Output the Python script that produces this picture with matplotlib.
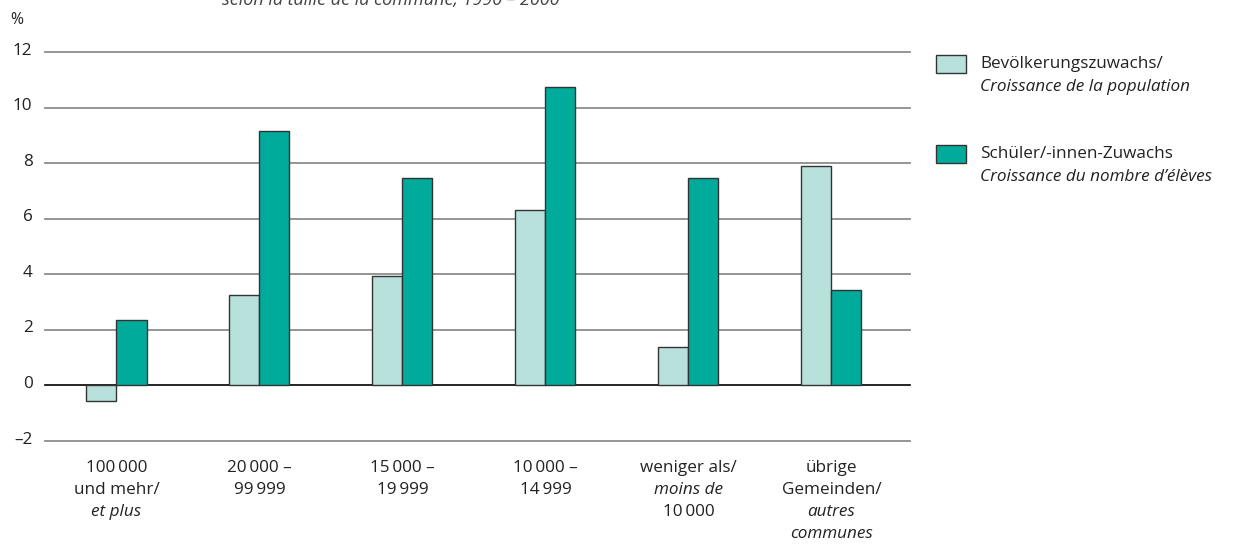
import matplotlib
matplotlib.use("Agg")
import matplotlib.pyplot as plt
from matplotlib.patches import Rectangle

# Daten
categories = [
    [("100\u2009000", False), ("und mehr/", False), ("et plus", True)],
    [("20\u2009000 –", False), ("99\u2009999", False)],
    [("15\u2009000 –", False), ("19\u2009999", False)],
    [("10\u2009000 –", False), ("14\u2009999", False)],
    [("weniger als/", False), ("moins de", True), ("10\u2009000", False)],
    [("übrige", False), ("Gemeinden/", False), ("autres", True), ("communes", True)],
]
bevoelkerung = [-0.55, 3.25, 3.95, 6.3, 1.4, 7.9]
schueler = [2.35, 9.15, 7.45, 10.75, 7.45, 3.45]
yticks = [-2, 0, 2, 4, 6, 8, 10, 12]

LIGHT = "#b8e1dc"
DARK = "#00ab9b"
EDGE = "#333333"
GRID = "#8c8c8c"
TXT = "#222222"
FS = 12.3

plt.rcParams["font.family"] = ["Open Sans", "DejaVu Sans"]

fig = plt.figure(figsize=(12.51, 5.5), dpi=100)
ax = fig.add_axes([45 / 1251, 1 - 441 / 550, (910 - 45) / 1251, (441 - 52) / 550])
ax.set_xlim(-0.5, 5.55)
ax.set_ylim(-2, 12)
ax.axis("off")

for y in yticks:
    ax.axhline(y, color=("black" if y == 0 else GRID), lw=1.2 if y == 0 else 1.3,
               clip_on=False, zorder=1)
    ax.annotate("–2" if y < 0 else str(y), xy=(0, y), xycoords=("axes fraction", "data"),
                xytext=(-9, 1), textcoords="offset points", ha="right", va="center",
                fontsize=FS, color=TXT)

x = list(range(len(bevoelkerung)))
w = 0.21
ax.bar([i - w / 2 for i in x], bevoelkerung, width=w, color=LIGHT, edgecolor=EDGE,
       lw=1.0, zorder=3)
ax.bar([i + w / 2 for i in x], schueler, width=w, color=DARK, edgecolor=EDGE,
       lw=1.0, zorder=3)

# Kategorienbeschriftung
for i, lines in enumerate(categories):
    for k, (t, it) in enumerate(lines):
        ax.annotate(t, xy=(i, 0), xycoords=("data", "axes fraction"),
                    xytext=(0, -19.5 - k * 15.8), textcoords="offset points",
                    ha="center", va="center", fontsize=FS, color=TXT,
                    style="italic" if it else "normal")

fig.text(10 / 1251, 1 - 20 / 550, "%", ha="left", va="center", fontsize=FS - 1, color=TXT)
fig.text(222 / 1251, 1 - 0 / 550, "selon la taille de la commune, 1990 – 2000",
         ha="left", va="center", fontsize=13, style="italic", color="#444444")

# Legende
legend = [
    (LIGHT, "Bevölkerungszuwachs/", "Croissance de la population", 64),
    (DARK, "Schüler/-innen-Zuwachs", "Croissance du nombre d’élèves", 154),
]
for col, de, fr, yc in legend:
    fig.patches.append(Rectangle((936 / 1251, 1 - (yc + 9) / 550), 30 / 1251, 18 / 550,
                                 transform=fig.transFigure, fc=col, ec=EDGE, lw=1.0))
    fig.text(980 / 1251, 1 - yc / 550, de, ha="left", va="center", fontsize=FS, color=TXT)
    fig.text(980 / 1251, 1 - (yc + 23) / 550, fr, ha="left", va="center", fontsize=FS,
             style="italic", color=TXT)

fig.savefig("out.png", dpi=100, facecolor="white")
